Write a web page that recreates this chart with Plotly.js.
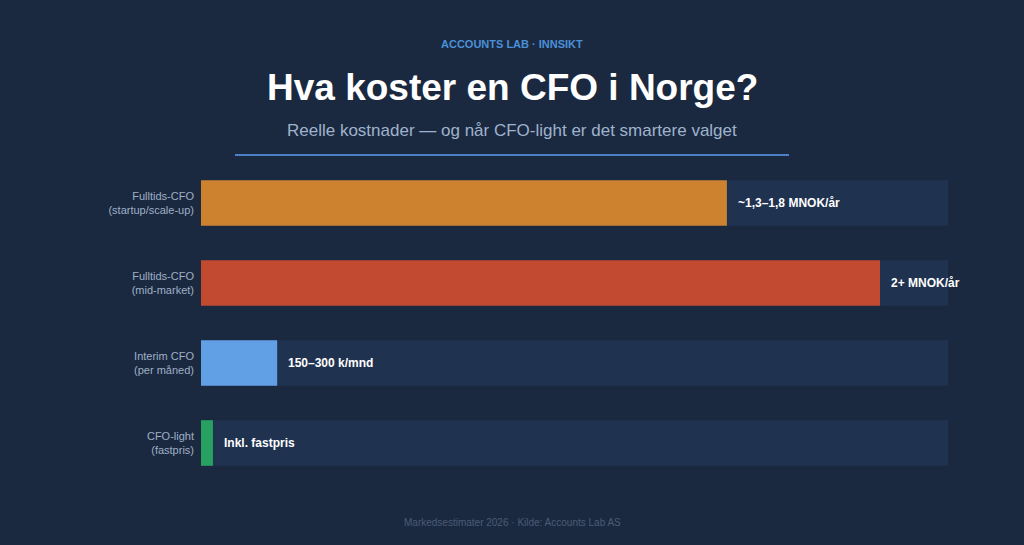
<!DOCTYPE html>
<html>
<head>
<meta charset="utf-8">
<script src="https://cdn.plot.ly/plotly-3.0.1.min.js"></script>
<style>
  html, body { margin: 0; padding: 0; background: #1b2940; }
  #chart { width: 1024px; height: 545px; }
</style>
</head>
<body>
<div id="chart"></div>
<script>
// Categories (top to bottom)
const categories = [
  "Fulltids-CFO<br>(startup/scale-up)",
  "Fulltids-CFO<br>(mid-market)",
  "Interim CFO<br>(per måned)",
  "CFO-light<br>(fastpris)"
];
// Relative cost index (0–100 scale)
const costIndex = [70.4, 90.9, 10.2, 1.6];
const trackMax = [100, 100, 100, 100];
const valueLabels = ["~1,3–1,8 MNOK/år", "2+ MNOK/år", "150–300 k/mnd", "Inkl. fastpris"];
const barColors = ["#cd8230", "#c14a30", "#62a0e6", "#27a062"];

const FONT = "Liberation Sans, Arial, sans-serif";
const plotTop = 163, plotBot = 483, L = 201, R = 948;
const cx = (512 - L) / (R - L);

const track = {
  type: "bar", orientation: "h",
  y: categories, x: trackMax,
  marker: { color: "#1f3250", line: { width: 0 } },
  width: 0.57, hoverinfo: "skip", showlegend: false
};
const bars = {
  type: "bar", orientation: "h",
  y: categories, x: costIndex,
  marker: { color: barColors, line: { width: 0 } },
  width: 0.57, hoverinfo: "skip", showlegend: false
};

const annotations = categories.map((c, i) => ({
  x: costIndex[i], y: c, xref: "x", yref: "y",
  text: "<b>" + valueLabels[i] + "</b>",
  showarrow: false, xanchor: "left", xshift: 9,
  font: { family: FONT, size: 12, color: "#ffffff" }
}));
annotations.push(
  { xref: "paper", yref: "paper", x: cx, y: 1, yshift: plotTop - 44, showarrow: false, yanchor: "middle",
    text: "<b>ACCOUNTS LAB · INNSIKT</b>",
    font: { family: FONT, size: 11, color: "#4a90d9" } },
  { xref: "paper", yref: "paper", x: cx, y: 1, yshift: plotTop - 87, showarrow: false, yanchor: "middle",
    text: "<b>Hva koster en CFO i Norge?</b>",
    font: { family: FONT, size: 37, color: "#ffffff" } },
  { xref: "paper", yref: "paper", x: cx, y: 1, yshift: plotTop - 130, showarrow: false, yanchor: "middle",
    text: "Reelle kostnader — og når CFO-light er det smartere valget",
    font: { family: FONT, size: 17, color: "#9fb3cc" } },
  { xref: "paper", yref: "paper", x: cx, y: 0, yshift: plotBot - 522, showarrow: false, yanchor: "middle",
    text: "Markedsestimater 2026 · Kilde: Accounts Lab AS",
    font: { family: FONT, size: 10, color: "#4b5b76" } }
);

const layout = {
  width: 1024, height: 545,
  paper_bgcolor: "#1b2940", plot_bgcolor: "rgba(0,0,0,0)",
  margin: { l: L, r: 1024 - R, t: plotTop, b: 545 - plotBot, pad: 0 },
  barmode: "overlay",
  xaxis: { range: [0, 100], visible: false, fixedrange: true },
  yaxis: {
    autorange: "reversed", showgrid: false, zeroline: false, showline: false,
    ticks: "", ticklabelstandoff: 6,
    tickfont: { family: FONT, size: 11, color: "#9fb0c6" }
  },
  font: { family: FONT },
  annotations: annotations,
  shapes: [
    { type: "line", xref: "paper", yref: "paper",
      x0: (235 - L) / (R - L), x1: (789 - L) / (R - L),
      y0: 1 + 8 / (plotBot - plotTop), y1: 1 + 8 / (plotBot - plotTop),
      line: { color: "#4a80c4", width: 2 } }
  ]
};

Plotly.newPlot("chart", [track, bars], layout, { displayModeBar: false, staticPlot: true });
</script>
</body>
</html>
